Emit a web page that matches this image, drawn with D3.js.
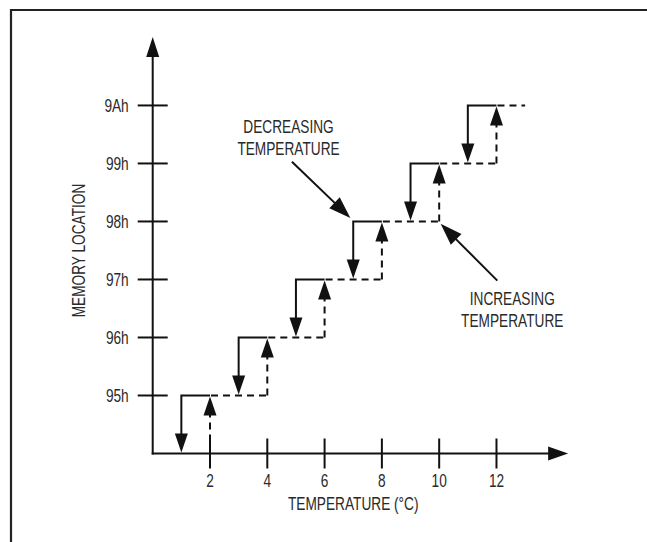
<!DOCTYPE html>
<html>
<head>
<meta charset="utf-8">
<script src="https://cdn.jsdelivr.net/npm/d3@7"></script>
<style>
  html, body { margin: 0; padding: 0; background: #fff; }
  svg { display: block; }
  text { font-family: "Liberation Sans", Arial, Helvetica, sans-serif; fill: #2a2a2a; }
</style>
</head>
<body>
<script>
// ---- data ----
const levelLabels = ["95h", "96h", "97h", "98h", "99h", "9Ah"];   // memory locations, level 1..6
const levelIndex = [1, 2, 3, 4, 5, 6];
const xTickValues = [2, 4, 6, 8, 10, 12];                         // temperature (°C)
const decreasingTemps = [1, 3, 5, 7, 9, 11];                       // location drops to previous level
const increasingTemps = [2, 4, 6, 8, 10, 12];                      // location rises to this level
const increasingEnd = 13;                                          // end of last dashed run
const xAxisTitle = "TEMPERATURE (°C)";
const yAxisTitle = "MEMORY LOCATION";
const decreasingNote = ["DECREASING", "TEMPERATURE"];
const increasingNote = ["INCREASING", "TEMPERATURE"];

// ---- layout ----
const W = 647, H = 542;
const svg = d3.select("body").append("svg").attr("width", W).attr("height", H);

const x = d3.scaleLinear().domain([0, 14.5]).range([152.7, 568.1]);
const y = d3.scaleLinear().domain([0, 7.18]).range([453.5, 37]);

const ink = "#111";
const FS = 18;
const SX = 0.76;   // horizontal condensing of the narrow label face

// condensed text helper
function ctext(g, tx, ty, str, anchor, rot) {
  return g.append("text")
    .attr("transform", `translate(${tx},${ty})${rot ? ` rotate(${rot})` : ""} scale(${SX},1)`)
    .attr("text-anchor", anchor).attr("font-size", FS)
    .text(str);
}

// frame (open on right and bottom)
svg.append("path")
  .attr("d", `M11,${H + 2} V10 H${W + 2}`)
  .attr("fill", "none").attr("stroke", "#222").attr("stroke-width", 2.2);

function arrowHead(g, tipX, tipY, dx, dy, len, half) {
  const bx = tipX - dx * len, by = tipY - dy * len;
  const px = -dy, py = dx;
  g.append("path")
    .attr("d", `M${tipX},${tipY} L${bx + px * half},${by + py * half} L${bx - px * half},${by - py * half} Z`)
    .attr("fill", ink).attr("stroke", "none");
}

const axes = svg.append("g");
// y axis
axes.append("line")
  .attr("x1", x(0)).attr("x2", x(0)).attr("y1", y(0) + 1).attr("y2", y(7.18) + 18)
  .attr("stroke", ink).attr("stroke-width", 2);
arrowHead(axes, x(0), y(7.18), 0, -1, 20, 6.5);
// x axis
axes.append("line")
  .attr("x1", x(0) - 1).attr("x2", x(14.5) - 18).attr("y1", y(0)).attr("y2", y(0))
  .attr("stroke", ink).attr("stroke-width", 2);
arrowHead(axes, x(14.5), y(0), 1, 0, 20, 7);

// y ticks + labels
levelIndex.forEach((d, i) => {
  axes.append("line")
    .attr("x1", x(0) - 15).attr("x2", x(0) + 15)
    .attr("y1", y(d)).attr("y2", y(d))
    .attr("stroke", ink).attr("stroke-width", 2);
  ctext(axes, x(0) - 24, y(d) + 6.5, levelLabels[i], "end");
});

// x ticks + labels
xTickValues.forEach(d => {
  axes.append("line")
    .attr("x1", x(d)).attr("x2", x(d))
    .attr("y1", y(0) - 15).attr("y2", y(0) + 15)
    .attr("stroke", ink).attr("stroke-width", 2);
  ctext(axes, x(d), y(0) + 33, String(d), "middle");
});

// axis titles
ctext(svg, x(7), y(0) + 56, xAxisTitle, "middle");
ctext(svg, 84.5, y(3.5), yAxisTitle, "middle", -90);

// ---- staircase ----
const steps = svg.append("g");
const AL = 19, AH = 6.5;

levelIndex.forEach((L, k) => {
  const xd = decreasingTemps[k], xi = increasingTemps[k];
  const xNext = k + 1 < increasingTemps.length ? increasingTemps[k + 1] : increasingEnd;

  // decreasing (solid): horizontal at level L from xi back to xd, then down to L-1
  steps.append("path")
    .attr("d", `M${x(xi)},${y(L)} H${x(xd)} V${y(L - 1) - AL + 2}`)
    .attr("fill", "none").attr("stroke", ink).attr("stroke-width", 2)
    .attr("stroke-linejoin", "miter");
  arrowHead(steps, x(xd), y(L - 1) - 1, 0, 1, AL, AH);

  // increasing (dashed): up from L-1 to L at xi, then along level L to next rise
  steps.append("path")
    .attr("d", `M${x(xi)},${y(L - 1)} V${y(L) + AL - 2}`)
    .attr("fill", "none").attr("stroke", ink).attr("stroke-width", 2)
    .attr("stroke-dasharray", "7,5");
  arrowHead(steps, x(xi), y(L) + 1, 0, -1, AL, AH);
  steps.append("path")
    .attr("d", `M${x(xi) + 1},${y(L)} H${x(xNext)}`)
    .attr("fill", "none").attr("stroke", ink).attr("stroke-width", 2)
    .attr("stroke-dasharray", "7,5");
});

// ---- annotations ----
function pointer(g, x0, y0, x1, y1) {
  const len = Math.hypot(x1 - x0, y1 - y0);
  const dx = (x1 - x0) / len, dy = (y1 - y0) / len;
  g.append("line")
    .attr("x1", x0).attr("y1", y0).attr("x2", x1 - dx * 16).attr("y2", y1 - dy * 16)
    .attr("stroke", ink).attr("stroke-width", 2);
  arrowHead(g, x1, y1, dx, dy, 22, 7.5);
}
const ann = svg.append("g");
pointer(ann, x(4.86), y(5.03), x(6.9), y(4.06));
pointer(ann, x(12.03), y(2.98), x(10.05), y(3.96));

decreasingNote.forEach((s, i) => ctext(ann, x(4.74), y(5.52) + i * 22, s, "middle"));
increasingNote.forEach((s, i) => ctext(ann, x(12.55), y(2.56) + i * 22, s, "middle"));
</script>
</body>
</html>
